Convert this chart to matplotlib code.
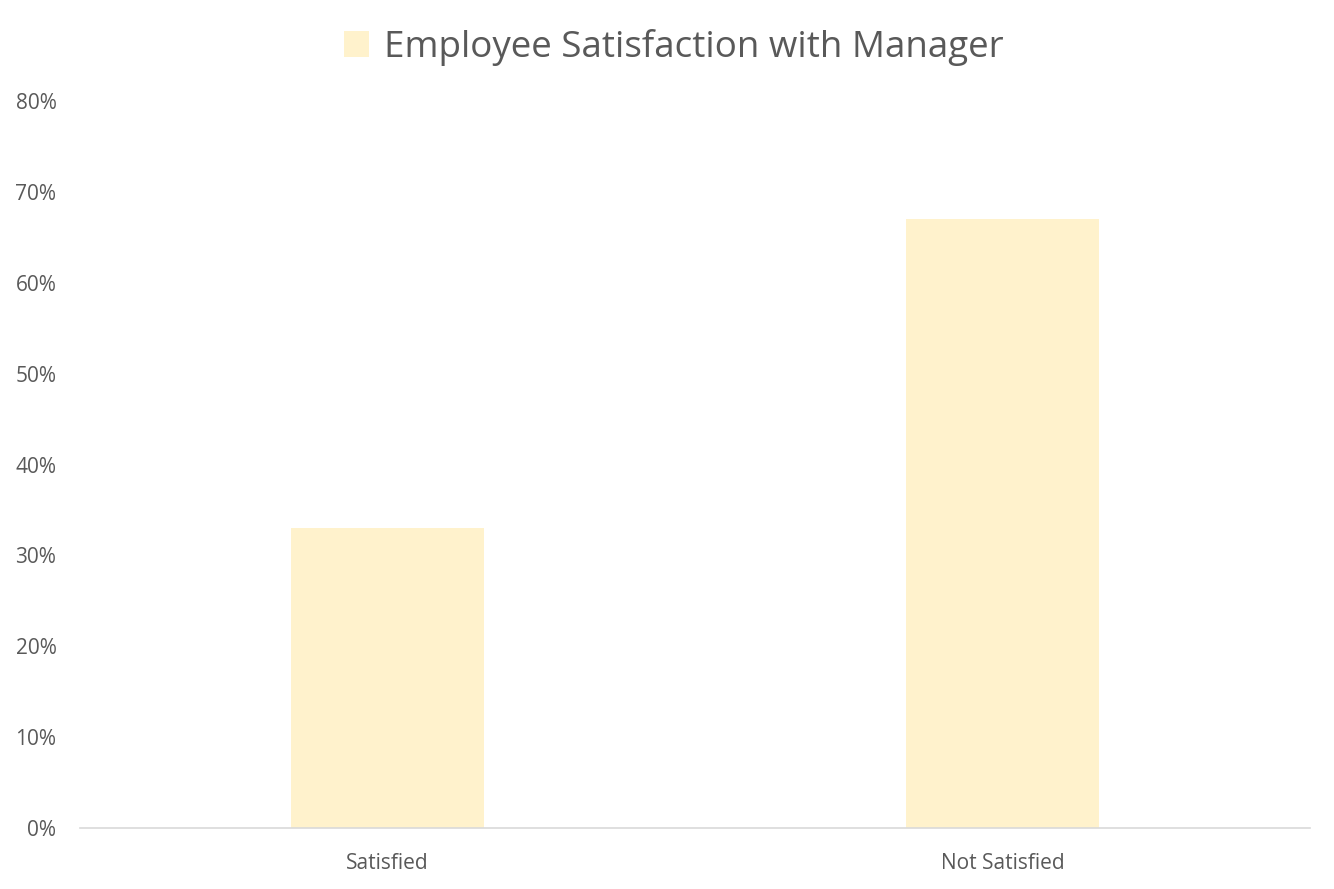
import matplotlib
matplotlib.use("Agg")
import matplotlib.pyplot as plt
from matplotlib.ticker import PercentFormatter

plt.rcParams['font.family'] = ['Open Sans', 'DejaVu Sans']

# data
categories = ['Satisfied', 'Not Satisfied']
values = [0.33, 0.67]
series_name = 'Employee Satisfaction with Manager'
yticks = [0, 0.1, 0.2, 0.3, 0.4, 0.5, 0.6, 0.7, 0.8]

text_color = '#595959'
bar_color = '#FFF2CC'

fig = plt.figure(figsize=(13.34, 8.89), dpi=100)
ax = fig.add_axes([0.060, 0.0686, 0.922, 0.8178])

x = range(len(categories))
bars = ax.bar(x, values, width=0.314, color=bar_color, label=series_name)

ax.set_xlim(-0.5, len(categories) - 0.5)
ax.set_ylim(0, 0.8)
ax.set_yticks(yticks)
ax.yaxis.set_major_formatter(PercentFormatter(1.0, decimals=0))
ax.set_xticks(list(x))
ax.set_xticklabels(categories)

ax.tick_params(axis='both', length=0, colors=text_color, labelsize=15)
ax.tick_params(axis='x', pad=18)
ax.tick_params(axis='y', pad=17)

for s in ['top', 'right', 'left']:
    ax.spines[s].set_visible(False)
ax.spines['bottom'].set_color('#D9D9D9')
ax.spines['bottom'].set_linewidth(1.2)

fig.legend(handles=[bars], labels=[series_name], loc='upper center',
           bbox_to_anchor=(0.505, 1.005), frameon=False, fontsize=26.5,
           labelcolor=text_color, handlelength=0.7, handleheight=0.7,
           handletextpad=0.4)

fig.savefig('out.png', dpi=100)
